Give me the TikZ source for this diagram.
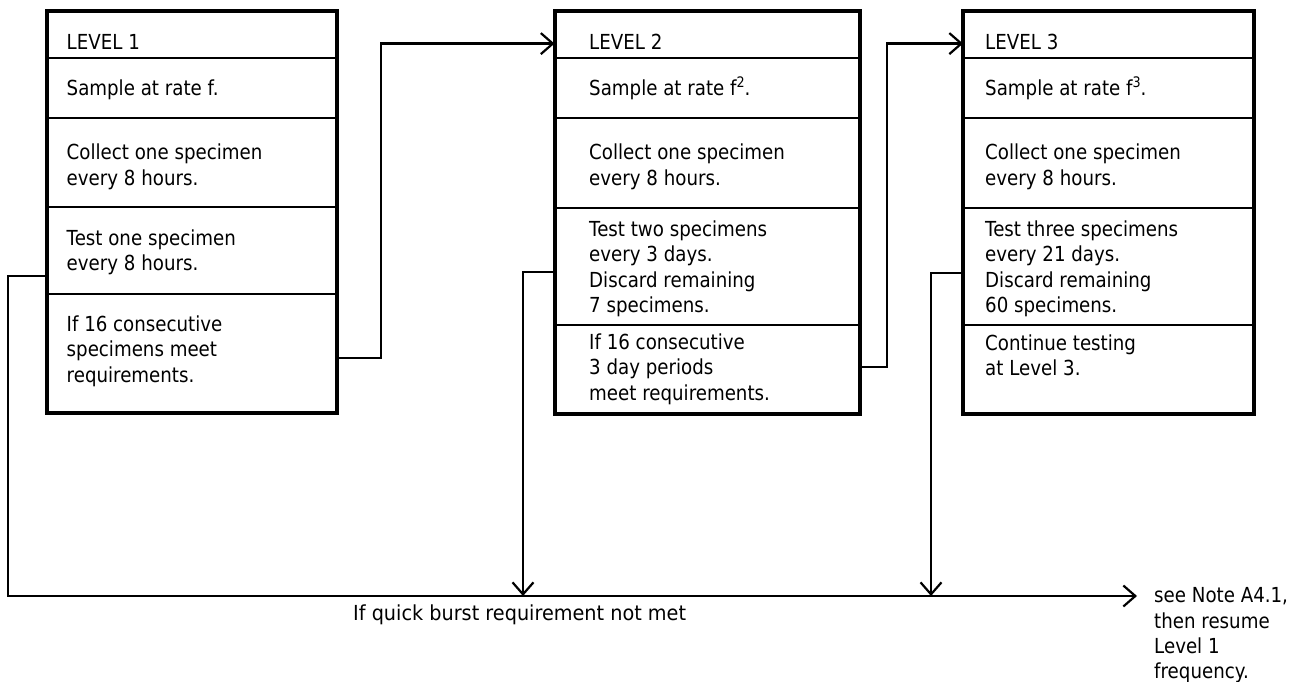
\documentclass[tikz,border=0pt]{standalone}
\usepackage{fontspec}
\setmainfont{DejaVu Sans}[FakeStretch=0.88]
\usetikzlibrary{arrows.meta}
\newcommand\sr{\rule{0pt}{18pt}}
\newcommand\supx[1]{\raisebox{7.5pt}{\fontsize{14.5}{14.5}\selectfont #1}}
\begin{document}
\begin{tikzpicture}[x=1pt,y=-1pt,
  sec/.style={draw, line width=2.2pt, inner sep=0pt, anchor=north west},
  frame/.style={draw, line width=4pt},
  txt/.style={anchor=north west, inner sep=0pt, align=left, font=\fontsize{20.7}{25.5}\selectfont},
  conn/.style={line width=2.2pt},
  arr/.style={-{Straight Barb[length=12pt,width=21pt,line width=2.2pt]}}]
\useasboundingbox (0,0) rectangle (1303,682);
% ---------- Box 1
\node[sec, minimum width=288pt, minimum height=46pt]  (a1) at (46.5,11)  {};
\node[sec, minimum width=288pt, minimum height=60pt]  (a2) at (46.5,57)  {};
\node[sec, minimum width=288pt, minimum height=89pt]  (a3) at (46.5,117) {};
\node[sec, minimum width=288pt, minimum height=87pt]  (a4) at (46.5,206) {};
\node[sec, minimum width=288pt, minimum height=118pt] (a5) at (46.5,293) {};
\draw[frame] (a1.north west) rectangle (a5.south east);
\node[txt] (ta1) at (66.5,49-18)   {\sr LEVEL 1};
\node[txt] (ta2) at (66.5,95-18)   {\sr Sample at rate f.};
\node[txt] (ta3) at (66.5,159.5-18){\sr Collect one specimen\\every 8 hours.};
\node[txt] (ta4) at (66.5,245-18)  {\sr Test one specimen\\every 8 hours.};
\node[txt] (ta5) at (66.5,331-18)  {\sr If 16 consecutive\\specimens meet\\requirements.};
% ---------- Box 2
\node[sec, minimum width=303pt, minimum height=46pt]  (b1) at (554.5,11)  {};
\node[sec, minimum width=303pt, minimum height=60pt]  (b2) at (554.5,57)  {};
\node[sec, minimum width=303pt, minimum height=90pt]  (b3) at (554.5,117) {};
\node[sec, minimum width=303pt, minimum height=117pt] (b4) at (554.5,207) {};
\node[sec, minimum width=303pt, minimum height=88pt]  (b5) at (554.5,324) {};
\draw[frame] (b1.north west) rectangle (b5.south east);
\node[txt] (tb1) at (589,49-18)   {\sr LEVEL 2};
\node[txt] (tb2) at (589,95-18)   {\sr Sample at rate f\supx{2}.};
\node[txt] (tb3) at (589,159.5-18){\sr Collect one specimen\\every 8 hours.};
\node[txt] (tb4) at (589,236-18)  {\sr Test two specimens\\every 3 days.\\Discard remaining\\7 specimens.};
\node[txt] (tb5) at (589,349-18)  {\sr If 16 consecutive\\3 day periods\\meet requirements.};
% ---------- Box 3
\node[sec, minimum width=289pt, minimum height=46pt]  (c1) at (963,11)  {};
\node[sec, minimum width=289pt, minimum height=60pt]  (c2) at (963,57)  {};
\node[sec, minimum width=289pt, minimum height=90pt]  (c3) at (963,117) {};
\node[sec, minimum width=289pt, minimum height=117pt] (c4) at (963,207) {};
\node[sec, minimum width=289pt, minimum height=88pt]  (c5) at (963,324) {};
\draw[frame] (c1.north west) rectangle (c5.south east);
\node[txt] (tc1) at (985,49-18)   {\sr LEVEL 3};
\node[txt] (tc2) at (985,95-18)   {\sr Sample at rate f\supx{3}.};
\node[txt] (tc3) at (985,159.5-18){\sr Collect one specimen\\every 8 hours.};
\node[txt] (tc4) at (985,236-18)  {\sr Test three specimens\\every 21 days.\\Discard remaining\\60 specimens.};
\node[txt] (tc5) at (985,350-18)  {\sr Continue testing\\at Level 3.};
% ---------- bottom labels
\node[txt] (lbl) at (353,620-18) {\sr\addfontfeatures{FakeStretch=0.93}If quick burst requirement not met};
\node[txt, font=\fontsize{20.7}{25.3}\selectfont] (note) at (1154,602.5-18) {\sr see Note A4.1,\\then resume\\Level 1\\frequency.};
\coordinate (c0) at (8,596);
\coordinate (j1) at (523,596);
\coordinate (j2) at (931,596);
\coordinate (tip) at (1137,596);
% ---------- connectors
\draw[conn,arr] ([yshift=-4.5pt]a5.east) -- ++(44.5,0) |- ([yshift=-8.5pt]b1.west);
\draw[conn,arr] ([yshift=2pt]b5.east) -- ++(27.5,0) |- ([yshift=-8.5pt]c1.west);
\draw[conn,arr] ([yshift=-25.5pt]a4.west) -| (c0) -- (tip);
\draw[conn,arr] ([yshift=-5.5pt]b4.west) -| (j1);
\draw[conn,arr] ([yshift=-6.5pt]c4.west) -| (j2);
\end{tikzpicture}
\end{document}
